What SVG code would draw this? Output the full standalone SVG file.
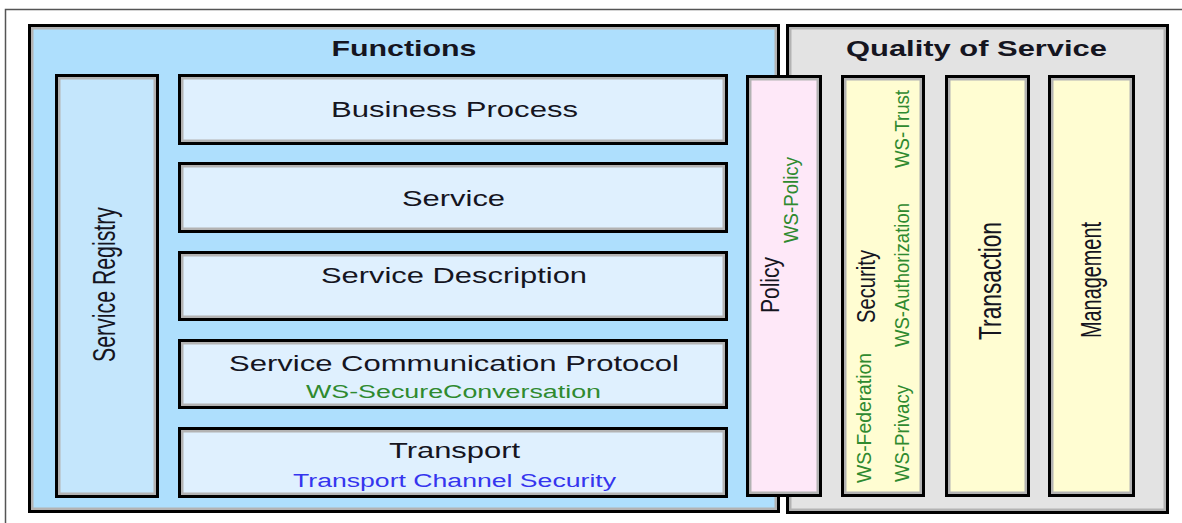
<svg xmlns="http://www.w3.org/2000/svg" width="1182" height="523" viewBox="0 0 1182 523">
<style>
.bk{stroke:#000;stroke-width:3}
.gr{fill:none;stroke:#b3b3b3;stroke-width:2.5}
.t{font-family:"Liberation Sans",Arial,sans-serif;fill:#15151f;text-anchor:middle}
.h{font-weight:bold;font-size:22px}
.m{font-size:22px}
.gn{fill:#2f8a2f}
.bl{fill:#3535ee}
</style>
<rect width="1182" height="523" fill="#fff"/>
<path d="M5.5,523 V9.5 H1182" fill="none" stroke="#555" stroke-width="1.5"/>

<g id="functions">
<rect class="bk" x="29.5" y="25.5" width="749" height="486" fill="#aedffd"/>
<rect class="gr" x="32.25" y="28.25" width="743.5" height="480.5"/>
<text class="t h" x="404" y="56" textLength="145" lengthAdjust="spacingAndGlyphs">Functions</text>
</g>

<g id="qos">
<rect class="bk" x="787.5" y="25.5" width="380" height="487" fill="#e3e3e3"/>
<rect class="gr" x="790.25" y="28.25" width="374.5" height="481.5"/>
<text class="t h" x="976.5" y="56" textLength="261" lengthAdjust="spacingAndGlyphs">Quality of Service</text>
</g>

<g id="service-registry">
<rect class="bk" x="56.5" y="75.5" width="101" height="421" fill="#c4e6fc"/>
<rect class="gr" x="59.25" y="78.25" width="95.5" height="415.5"/>
<text class="t" font-size="31" x="115" y="284.5" transform="rotate(-90 115 284.5)" textLength="155" lengthAdjust="spacingAndGlyphs">Service Registry</text>
</g>

<g id="business-process">
<rect class="bk" x="179.5" y="75.5" width="547" height="68" fill="#dff0fe"/>
<rect class="gr" x="182.25" y="78.25" width="541.5" height="62.5"/>
<text class="t m" x="454.5" y="117" textLength="247" lengthAdjust="spacingAndGlyphs">Business Process</text>
</g>

<g id="service">
<rect class="bk" x="179.5" y="163.5" width="547" height="68" fill="#dff0fe"/>
<rect class="gr" x="182.25" y="166.25" width="541.5" height="62.5"/>
<text class="t m" x="453.5" y="206" textLength="103" lengthAdjust="spacingAndGlyphs">Service</text>
</g>

<g id="service-description">
<rect class="bk" x="179.5" y="252.5" width="547" height="67" fill="#dff0fe"/>
<rect class="gr" x="182.25" y="255.25" width="541.5" height="61.5"/>
<text class="t m" x="454" y="283" textLength="266" lengthAdjust="spacingAndGlyphs">Service Description</text>
</g>

<g id="service-communication-protocol">
<rect class="bk" x="179.5" y="340.5" width="547" height="67" fill="#dff0fe"/>
<rect class="gr" x="182.25" y="343.25" width="541.5" height="61.5"/>
<text class="t m" x="454" y="371" textLength="450" lengthAdjust="spacingAndGlyphs">Service Communication Protocol</text>
<text class="t gn" font-size="18" x="453.5" y="398" textLength="295" lengthAdjust="spacingAndGlyphs">WS-SecureConversation</text>
</g>

<g id="transport">
<rect class="bk" x="179.5" y="428.5" width="547" height="68" fill="#dff0fe"/>
<rect class="gr" x="182.25" y="431.25" width="541.5" height="62.5"/>
<text class="t m" x="454.5" y="458" textLength="131" lengthAdjust="spacingAndGlyphs">Transport</text>
<text class="t bl" font-size="18" x="454.5" y="487" textLength="323" lengthAdjust="spacingAndGlyphs">Transport Channel Security</text>
</g>

<g id="policy">
<rect class="bk" x="747.5" y="76.5" width="73" height="419" fill="#fee8f8"/>
<rect class="gr" x="750.25" y="79.25" width="67.5" height="413.5"/>
<text class="t" font-size="25" x="779" y="285" transform="rotate(-90 779 285)" textLength="56" lengthAdjust="spacingAndGlyphs">Policy</text>
<text class="t gn" font-size="21" x="798" y="200" transform="rotate(-90 798 200)" textLength="86" lengthAdjust="spacingAndGlyphs">WS-Policy</text>
</g>

<g id="security">
<rect class="bk" x="842.5" y="76.5" width="81" height="419" fill="#fffdd2"/>
<rect class="gr" x="845.25" y="79.25" width="75.5" height="413.5"/>
<text class="t" font-size="25" x="875" y="286.5" transform="rotate(-90 875 286.5)" textLength="73" lengthAdjust="spacingAndGlyphs">Security</text>
<text class="t gn" font-size="21" x="871" y="418" transform="rotate(-90 871 418)" textLength="130" lengthAdjust="spacingAndGlyphs">WS-Federation</text>
<text class="t gn" font-size="21" x="909" y="129" transform="rotate(-90 909 129)" textLength="78" lengthAdjust="spacingAndGlyphs">WS-Trust</text>
<text class="t gn" font-size="21" x="909" y="275" transform="rotate(-90 909 275)" textLength="144" lengthAdjust="spacingAndGlyphs">WS-Authorization</text>
<text class="t gn" font-size="21" x="909" y="433.5" transform="rotate(-90 909 433.5)" textLength="97" lengthAdjust="spacingAndGlyphs">WS-Privacy</text>
</g>

<g id="transaction">
<rect class="bk" x="946.5" y="76.5" width="82" height="419" fill="#fffdd2"/>
<rect class="gr" x="949.25" y="79.25" width="76.5" height="413.5"/>
<text class="t" font-size="32" x="1001" y="281" transform="rotate(-90 1001 281)" textLength="118" lengthAdjust="spacingAndGlyphs">Transaction</text>
</g>

<g id="management">
<rect class="bk" x="1049.5" y="76.5" width="84" height="419" fill="#fffdd2"/>
<rect class="gr" x="1052.25" y="79.25" width="78.5" height="413.5"/>
<text class="t" font-size="29" x="1101" y="280" transform="rotate(-90 1101 280)" textLength="116" lengthAdjust="spacingAndGlyphs">Management</text>
</g>

<g id="connectors"></g>
</svg>
